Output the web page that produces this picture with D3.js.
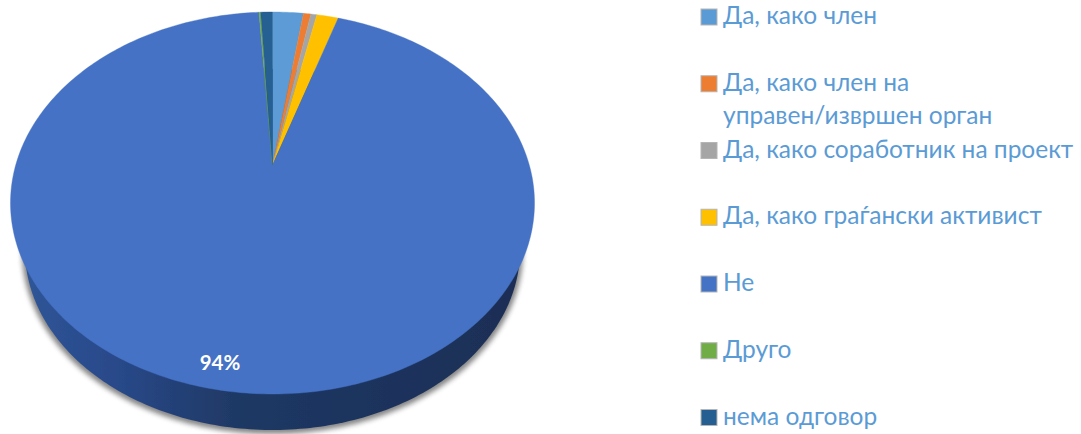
<!DOCTYPE html>
<html><head><meta charset="utf-8">
<script src="https://cdn.jsdelivr.net/npm/d3@7/dist/d3.min.js"></script>
<style>html,body{margin:0;padding:0;background:#fff}svg{display:block}</style>
</head><body><svg id="c" width="1081" height="434"></svg>
<script>
const categories = ["Да, како член","Да, како член на|управен/извршен орган","Да, како соработник на проект","Да, како граѓански активист","Не","Друго","нема одговор"];
const values = [2.3,0.55,0.45,1.6,93.6,0.12,0.88];
const colors = ["#5b9bd5","#ed7d31","#a5a5a5","#ffc000","#4472c4","#70ad47","#255e91"];
const dataLabel = "94%";

const svg = d3.select("#c");
const defs = svg.append("defs");
const cx=272.5, apexY=165, farR=153, nearR=229, halfW=262;
const k=(nearR-farR)/(nearR+farR), a=farR*(1+k), b=halfW*Math.sqrt(1-k*k);
const project=(t,s=1,dy=0)=>{const u=Math.sin(t),v=Math.cos(t),w=1+k*v;
  return [cx+s*b*u/w, apexY+dy-s*a*v/w];};
const line=d3.line();
const arcPts=(t0,t1,s,dy)=>d3.range(0,1.0001,1/Math.max(4,Math.ceil((t1-t0)*60))).map(f=>project(t0+(t1-t0)*f,s,dy));

const grad=defs.append("linearGradient").attr("id","side").attr("x1","0").attr("x2","1").attr("y1","0").attr("y2","0");
grad.append("stop").attr("offset","0").attr("stop-color","#2f5597");
grad.append("stop").attr("offset","0.18").attr("stop-color","#29498a");
grad.append("stop").attr("offset","0.42").attr("stop-color","#1f3965");
grad.append("stop").attr("offset","1").attr("stop-color","#1a2e55");
defs.append("filter").attr("id","blur").attr("x","-10%").attr("y","-10%").attr("width","120%").attr("height","120%")
  .append("feGaussianBlur").attr("stdDeviation",2.5);
defs.append("filter").attr("id","soft").attr("x","-2%").attr("y","-2%").attr("width","104%").attr("height","104%")
  .append("feGaussianBlur").attr("stdDeviation",0.45);

const pie=d3.pie().sort(null).value(d=>d)(values);
const chart=svg.append("g");
const sBot=0.945, dyBot=48.6;
chart.append("path").attr("d",line(arcPts(0,2*Math.PI,sBot*1.012,dyBot+1.5))+"Z").attr("fill","#555").attr("filter","url(#blur)").attr("opacity",.7);
const body=chart.append("g").attr("filter","url(#soft)");
body.append("path").attr("d",line(arcPts(0,2*Math.PI,sBot,dyBot))+"Z").attr("fill","url(#side)");
body.selectAll("path.slice").data(pie).join("path").attr("class","slice")
  .attr("fill",(d,i)=>colors[i]).attr("stroke",(d,i)=>colors[i]).attr("stroke-width",.4)
  .attr("d",d=>line([[cx,apexY],...arcPts(d.startAngle,d.endAngle,1,0)])+"Z");

svg.append("text").attr("x",220).attr("y",370).attr("text-anchor","middle")
  .attr("font-family","Lato, 'Open Sans', sans-serif").attr("font-weight",700).attr("font-size",20.5).attr("fill","#fff").text(dataLabel);

const yLegend=d3.scalePoint().domain(categories).range([17,417.5]);
const leg=svg.append("g").selectAll("g").data(categories).join("g").attr("transform",d=>`translate(0,${yLegend(d)})`);
leg.append("rect").attr("x",701).attr("y",-8).attr("width",16).attr("height",16).attr("fill",(d,i)=>colors[i]).attr("stroke","#b5b5b5").attr("stroke-width",1);
leg.each(function(d){d.split("|").forEach((s,j)=>{
  d3.select(this).append("text").attr("x",723).attr("y",7+j*33).attr("font-family","Lato, Carlito, 'Open Sans', sans-serif").attr("font-size",24.5).attr("fill","#5b9bd5").text(s);
});});
</script></body></html>
